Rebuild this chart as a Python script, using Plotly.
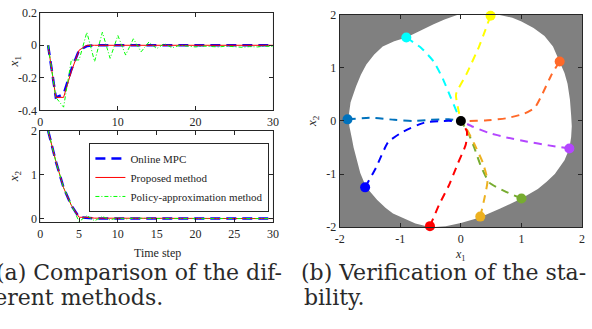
import plotly.graph_objects as go

# ---------------- data: left panels ----------------
steps = list(range(1, 31))
mpc_x1 = [0, -0.32, -0.30, -0.15, -0.03, -0.005] + [0] * 24
prop_x1 = [0, -0.32, -0.32, -0.16, -0.03, 0] + [0] * 24
pol_x1 = [0, -0.32, -0.38, -0.09, -0.09, 0.08, -0.10, 0.08, -0.08, 0.06,
          -0.06, 0.04, -0.04, 0.02, -0.02, 0.01, -0.015, 0, -0.005, -0.01,
          -0.005, -0.008, -0.01, -0.005, -0.01, -0.012, -0.008, -0.01, -0.005, -0.008]
mpc_x2 = [2.0, 1.3, 0.7, 0.3, 0.03, 0.01, 0.005] + [0] * 23
prop_x2 = [2.0, 1.3, 0.7, 0.3, 0.03, 0.03, 0.01, 0.01, 0.005] + [0] * 21
pol_x2 = [2.0, 1.3, 0.7, 0.3, -0.07, 0.07, -0.05, 0.05, -0.03, 0.02,
          -0.01, 0.01, 0, 0.005] + [0] * 16

x1_ticks = [-0.4, -0.2, 0, 0.2]
x1_tick_text = ["-0.4", "-0.2", "0", "0.2"]
t_ticks_top = [0, 10, 20, 30]
t_ticks_bot = [0, 5, 10, 15, 20, 25, 30]
x2_ticks = [0, 1, 2]

# ---------------- data: right panel ----------------
region_x = [-0.05, 0.30, 0.62, 0.85, 1.00, 1.20, 1.38, 1.52, 1.63, 1.71, 1.76, 1.80,
            1.82, 1.83, 1.82, 1.79, 1.71, 1.63, 1.55, 1.42, 1.27, 1.00, 0.65, 0.30,
            0.00, -0.25, -0.50, -0.75, -0.96, -1.12, -1.24, -1.38, -1.50, -1.58,
            -1.66, -1.72, -1.77, -1.80, -1.84, -1.85, -1.82, -1.73, -1.65, -1.56,
            -1.43, -1.29, -1.10, -0.90, -0.69, -0.45, -0.27]
region_y = [2.00, 2.00, 2.00, 1.94, 1.87, 1.75, 1.60, 1.40, 1.12, 0.90, 0.70, 0.40,
            0.10, -0.10, -0.30, -0.52, -0.74, -0.88, -1.00, -1.14, -1.28, -1.46, -1.65, -1.82,
            -1.92, -1.98, -2.00, -1.93, -1.82, -1.74, -1.64, -1.49, -1.33, -1.20,
            -0.98, -0.74, -0.50, -0.32, -0.10, 0.10, 0.35, 0.65, 0.87, 1.06,
            1.25, 1.40, 1.50, 1.57, 1.69, 1.82, 1.91]

traj_colors = ["#0072BD", "#0000FF", "#00FFFF", "#FFFF00", "#FF6929",
               "#B446FF", "#77AC30", "#EDB120", "#FF0000"]
traj_x = [
    [-1.87, -1.45, -1.10, -0.80, -0.50, -0.20, 0],
    [-1.58, -1.40, -1.20, -0.95, -0.60, -0.30, 0],
    [-0.90, -0.65, -0.45, -0.30, -0.17, -0.06, 0],
    [0.49, 0.30, 0.10, -0.08, -0.03, 0],
    [1.63, 1.50, 1.35, 1.22, 1.05, 0.75, 0.40, 0.10, 0],
    [1.79, 1.45, 1.10, 0.75, 0.45, 0.20, 0],
    [1.00, 0.72, 0.47, 0.33, 0.22, 0.12, 0],
    [0.32, 0.39, 0.44, 0.36, 0.22, 0.09, 0],
    [-0.51, -0.36, -0.20, -0.05, 0.08, 0.10, 0],
]
traj_y = [
    [0.03, 0.06, 0.02, 0.00, 0.02, 0.03, 0],
    [-1.25, -0.88, -0.40, -0.20, -0.03, 0.00, 0],
    [1.57, 1.37, 1.12, 0.80, 0.45, 0.15, 0],
    [1.98, 1.40, 0.90, 0.50, 0.15, 0],
    [1.12, 0.88, 0.52, 0.25, 0.14, 0.05, 0.01, 0.00, 0],
    [-0.52, -0.46, -0.39, -0.31, -0.22, -0.11, 0],
    [-1.46, -1.32, -1.16, -0.85, -0.50, -0.22, 0],
    [-1.80, -1.45, -1.12, -0.78, -0.43, -0.14, 0],
    [-1.98, -1.58, -1.22, -0.80, -0.45, -0.20, 0],
]
state_ticks = [-2, -1, 0, 1, 2]
state_tick_text = ["-2", "-1", "0", "1", "2"]

# ---------------- figure ----------------
W, H = 592, 329
FONT = "Liberation Serif"
CAP_FONT = "DejaVu Serif"
fig = go.Figure()


def px_x(a, b):
    return [a / W, b / W]


def px_y(top, bottom):
    return [1 - bottom / H, 1 - top / H]


mpc_line = dict(color="#0000FF", width=2.5, dash="10px,6px")
prop_line = dict(color="#FF0000", width=1)
pol_line = dict(color="#00FF00", width=1, dash="4px,2px,1px,2px")

# top-left: x1
fig.add_trace(go.Scatter(x=steps, y=mpc_x1, mode="lines", line=mpc_line,
                         xaxis="x", yaxis="y", showlegend=False))
fig.add_trace(go.Scatter(x=steps, y=prop_x1, mode="lines", line=prop_line,
                         xaxis="x", yaxis="y", showlegend=False))
fig.add_trace(go.Scatter(x=steps, y=pol_x1, mode="lines", line=pol_line,
                         xaxis="x", yaxis="y", showlegend=False))
# bottom-left: x2
fig.add_trace(go.Scatter(x=steps, y=mpc_x2, mode="lines", name="Online MPC", line=mpc_line,
                         xaxis="x2", yaxis="y2"))
fig.add_trace(go.Scatter(x=steps, y=prop_x2, mode="lines", name="Proposed method", line=prop_line,
                         xaxis="x2", yaxis="y2"))
fig.add_trace(go.Scatter(x=steps, y=pol_x2, mode="lines", name="Policy-approximation method",
                         line=pol_line, xaxis="x2", yaxis="y2"))

# right: gray background + white region
fig.add_trace(go.Scatter(x=region_x + [region_x[0]], y=region_y + [region_y[0]],
                         mode="lines", fill="toself", fillcolor="white",
                         line=dict(color="white", width=0),
                         xaxis="x3", yaxis="y3", showlegend=False, hoverinfo="skip"))
for c, xs, ys in zip(traj_colors, traj_x, traj_y):
    fig.add_trace(go.Scatter(x=xs, y=ys, mode="lines",
                             line=dict(color=c, width=2, dash="8px,6px", shape="spline", smoothing=0.5),
                             xaxis="x3", yaxis="y3", showlegend=False))
    fig.add_trace(go.Scatter(x=[xs[0]], y=[ys[0]], mode="markers",
                             marker=dict(color=c, size=10),
                             xaxis="x3", yaxis="y3", showlegend=False, cliponaxis=False))
fig.add_trace(go.Scatter(x=[0], y=[0], mode="markers", marker=dict(color="black", size=10),
                         xaxis="x3", yaxis="y3", showlegend=False))

axis_common = dict(showline=True, linecolor="#262626", linewidth=1, mirror="ticks",
                   ticks="inside", ticklen=4, tickcolor="#262626", showgrid=False,
                   zeroline=False, tickfont=dict(family=FONT, size=12, color="#262626"))

fig.update_layout(
    width=W, height=H, margin=dict(l=0, r=0, t=0, b=0),
    paper_bgcolor="white", plot_bgcolor="#808080",
    font=dict(family=FONT, color="#262626"),
    xaxis=dict(domain=px_x(36, 273), range=[0, 30], tickvals=t_ticks_top,
               anchor="y", **axis_common),
    yaxis=dict(domain=px_y(6, 108), range=[-0.4, 0.2], tickvals=x1_ticks,
               ticktext=x1_tick_text, anchor="x", **axis_common),
    xaxis2=dict(domain=px_x(36, 273), range=[0, 30], tickvals=t_ticks_bot,
                anchor="y2", **axis_common),
    yaxis2=dict(domain=px_y(129, 225), range=[-0.087, 2], tickvals=x2_ticks,
                anchor="x2", **axis_common),
    xaxis3=dict(domain=px_x(341, 588), range=[-2, 2], tickvals=state_ticks,
                ticktext=state_tick_text, anchor="y3", **axis_common),
    yaxis3=dict(domain=px_y(8, 230), range=[-2, 2], tickvals=state_ticks,
                ticktext=state_tick_text, anchor="x3", **axis_common),
    legend=dict(x=86 / W, y=1 - 142 / H, xanchor="left", yanchor="top",
                bgcolor="white", bordercolor="#262626", borderwidth=1,
                font=dict(family=FONT, size=11, color="#262626"),
                tracegroupgap=0, itemwidth=30),
)
# left panels have white backgrounds
for (x0, x1p, y0, y1p) in [(36, 273, 6, 108), (36, 273, 129, 225)]:
    fig.add_shape(type="rect", xref="paper", yref="paper", x0=x0 / W, x1=x1p / W,
                  y0=1 - y1p / H, y1=1 - y0 / H, fillcolor="white", line=dict(width=0),
                  layer="below")

ann = [
    dict(text="<i>x</i><sub>1</sub>", x=10, y=57, textangle=-90, font=dict(family=FONT, size=13)),
    dict(text="<i>x</i><sub>2</sub>", x=10, y=177, textangle=-90, font=dict(family=FONT, size=13)),
    dict(text="<i>x</i><sub>2</sub>", x=314, y=119, textangle=-90, font=dict(family=FONT, size=13)),
    dict(text="Time step", x=155, y=257, font=dict(family=FONT, size=12)),
    dict(text="<i>x</i><sub>1</sub>", x=464, y=259, font=dict(family=FONT, size=12)),
    dict(text="(a) Comparison of the dif-", x=284, y=277, xanchor="right",
         font=dict(family=CAP_FONT, size=22, color="#2a2a2a")),
    dict(text="ferent methods.", x=163, y=303, xanchor="right",
         font=dict(family=CAP_FONT, size=22, color="#2a2a2a")),
    dict(text="(b) Verification of the sta-", x=300, y=277, xanchor="left",
         font=dict(family=CAP_FONT, size=22, color="#2a2a2a")),
    dict(text="bility.", x=303, y=303, xanchor="left",
         font=dict(family=CAP_FONT, size=22, color="#2a2a2a")),
]
for a in ann:
    a["x"] = a["x"] / W
    a["y"] = 1 - a["y"] / H
    a.setdefault("xanchor", "center")
    a.update(xref="paper", yref="paper", showarrow=False, yanchor="middle")
fig.update_layout(annotations=ann)

fig.write_html("out.html", config={"displayModeBar": False},
               post_script="document.body.style.margin='0';document.body.style.overflow='hidden';")
